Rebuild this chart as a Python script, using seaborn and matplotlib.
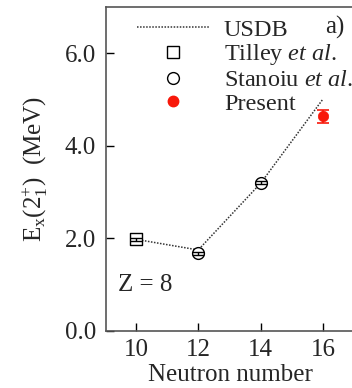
import matplotlib
matplotlib.use('Agg')
import matplotlib.pyplot as plt
import seaborn as sns
import pandas as pd
from matplotlib.lines import Line2D

# data
usdb_n = [10, 12, 14, 16]
usdb_e = [1.98, 1.75, 3.19, 5.01]

tilley_n = [10]
tilley_e = [1.98]
tilley_err = [0.03]

stanoiu_n = [12, 14]
stanoiu_e = [1.68, 3.20]
stanoiu_err = [0.03, 0.03]

present_n = [16]
present_e = [4.64]
present_err = [0.14]

xticks = [10, 12, 14, 16]
yticks = [0.0, 2.0, 4.0, 6.0]
ytick_labels = ['0.0', '2.0', '4.0', '6.0']

sns.set_style('ticks')
plt.rcParams['font.family'] = ['Liberation Serif', 'DejaVu Serif']
plt.rcParams['mathtext.fontset'] = 'custom'
plt.rcParams['mathtext.rm'] = 'Liberation Serif'
plt.rcParams['mathtext.it'] = 'Liberation Serif:italic'
plt.rcParams['font.size'] = 18

red = '#f8180a'
fig = plt.figure(figsize=(3.52, 3.88), dpi=100)
ax = fig.add_axes([0.301, 0.147, 0.705, 0.835])

df = pd.DataFrame({'N': usdb_n, 'E': usdb_e})
sns.lineplot(data=df, x='N', y='E', ax=ax, color='#333333', lw=1.1,
             linestyle=(0, (1, 1)), zorder=1)

# markers
sns.scatterplot(x=tilley_n, y=tilley_e, ax=ax, marker='s', s=64, color='white',
                edgecolor='black', linewidth=1, zorder=3)
sns.scatterplot(x=stanoiu_n, y=stanoiu_e, ax=ax, marker='o', s=72, color='white',
                edgecolor='black', linewidth=1, zorder=3)
sns.scatterplot(x=present_n, y=present_e, ax=ax, marker='o', s=56, color=red,
                edgecolor=red, linewidth=0.5, zorder=3)

# error bars drawn over the markers
ax.errorbar(tilley_n, tilley_e, yerr=tilley_err, fmt='none', ecolor='black',
            elinewidth=1, capsize=4, zorder=4)
ax.errorbar(stanoiu_n, stanoiu_e, yerr=stanoiu_err, fmt='none', ecolor='black',
            elinewidth=1, capsize=4, zorder=4)
ax.errorbar(present_n, present_e, yerr=present_err, fmt='none', ecolor=red,
            elinewidth=1.2, capsize=4, capthick=1.2, zorder=4)

ax.set_xlim(9.04, 17.0)
ax.set_ylim(0, 7)
ax.set_xticks(xticks)
ax.set_yticks(yticks)
ax.set_yticklabels(ytick_labels)
ax.tick_params(direction='in', length=6, width=1, labelsize=18, color='black')
ax.tick_params(axis='y', pad=7)
ax.tick_params(axis='x', pad=6)
for s in ax.spines.values():
    s.set_color('#555555')
    s.set_linewidth(1.2)

ax.set_xlabel('Neutron number', fontsize=18, labelpad=2)
ax.set_ylabel(r'E$_{\mathrm{x}}$(2$_{\mathrm{1}}^{+}$)  (MeV)', fontsize=18, labelpad=11)

ax.text(9.42, 0.99, 'Z = 8', fontsize=18, ha='left', va='center')
fig.text(0.952, 1 - 27 / 388, 'a)', fontsize=18, ha='center', va='center')

handles = [
    Line2D([], [], color='#333333', lw=1.1, linestyle=(0, (1, 1))),
    Line2D([], [], marker='s', ls='none', ms=8, mfc='white', mec='black', mew=1),
    Line2D([], [], marker='o', ls='none', ms=8.5, mfc='white', mec='black', mew=1),
    Line2D([], [], marker='o', ls='none', ms=7.5, mfc=red, mec=red),
]
labels = ['USDB', r'Tilley $\mathit{et\ al.}$', r'Stanoiu $\mathit{et\ al.}$', 'Present']
fig.legend(handles, labels, loc='upper left', bbox_to_anchor=(0.389, 0.952),
           bbox_transform=fig.transFigure, frameon=False, fontsize=17.5,
           handlelength=3.0, handletextpad=0.58, labelspacing=0.07,
           borderpad=0, borderaxespad=0, numpoints=1)

fig.savefig('out.png', dpi=100)
